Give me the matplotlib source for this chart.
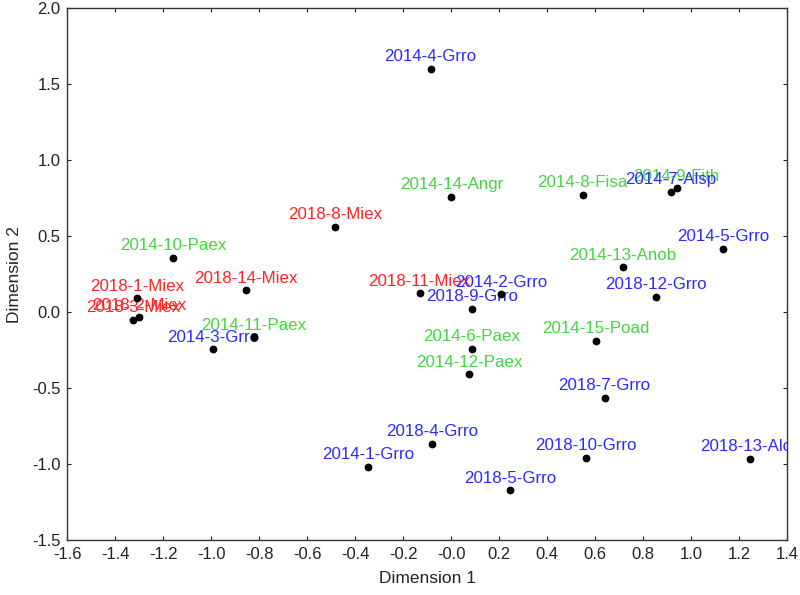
import numpy as np
import matplotlib.pyplot as plt

# points
labels = ['2014-4-Grro', '2014-14-Angr', '2014-8-Fisa', '2014-9-Fith', '2014-7-Alsp',
          '2014-5-Grro', '2014-13-Anob', '2018-12-Grro', '2014-15-Poad', '2018-7-Grro',
          '2018-10-Grro', '2018-13-Alce', '2014-1-Grro', '2018-4-Grro', '2018-5-Grro',
          '2018-11-Miex', '2014-2-Grro', '2018-9-Grro', '2014-6-Paex', '2014-12-Paex',
          '2018-1-Miex', '2018-2-Miex', '2018-3-Miex', '2018-14-Miex', '2014-11-Paex',
          '2014-3-Grro', '2018-8-Miex', '2014-10-Paex']
dim1 = [-0.086, 0.000, 0.548, 0.939, 0.915,
        1.132, 0.715, 0.854, 0.603, 0.639,
        0.561, 1.245, -0.346, -0.079, 0.246,
        -0.132, 0.207, 0.086, 0.086, 0.075,
        -1.308, -1.300, -1.325, -0.855, -0.823,
        -0.993, -0.485, -1.158]
dim2 = [1.601, 0.761, 0.774, 0.816, 0.793,
        0.416, 0.296, 0.103, -0.189, -0.564,
        -0.959, -0.965, -1.016, -0.864, -1.171,
        0.125, 0.118, 0.024, -0.239, -0.408,
        0.092, -0.033, -0.049, 0.145, -0.164,
        -0.243, 0.563, 0.357]
group = ['b', 'g', 'g', 'g', 'b',
         'b', 'g', 'b', 'g', 'b',
         'b', 'b', 'b', 'b', 'b',
         'r', 'b', 'b', 'g', 'g',
         'r', 'r', 'r', 'r', 'g',
         'b', 'r', 'g']

colors = {'g': '#45d445', 'r': '#ff2424', 'b': '#2b2bff'}
order = {'g': 0, 'r': 1, 'b': 2}

plt.rcParams['font.family'] = ['Liberation Sans', 'DejaVu Sans']

fig = plt.figure(figsize=(8, 5.95), dpi=100)
ax = fig.add_axes([0.0841, 0.0919, 0.9, 0.8941])

ax.plot(dim1, dim2, 'o', color='black', ms=4.6, zorder=5, clip_on=False)

for i in sorted(range(len(labels)), key=lambda k: order[group[k]]):
    ax.annotate(labels[i], (dim1[i], dim2[i]), xytext=(0, 5.5), textcoords='offset points',
                ha='center', va='baseline', fontsize=12.2, color=colors[group[i]],
                clip_on=True, zorder=3 + order[group[i]] * 0.1)

xt = np.arange(-1.6, 1.41, 0.2)
yt = np.arange(-1.5, 2.01, 0.5)
ax.set_xlim(-1.6, 1.4)
ax.set_ylim(-1.5, 2.0)
ax.set_xticks(xt)
ax.set_yticks(yt)
ax.set_xticklabels(['%.1f' % v for v in xt], fontsize=12)
ax.set_yticklabels(['%.1f' % v for v in yt], fontsize=12)
ax.tick_params(direction='in', length=3, width=0.8, top=True, right=True, pad=5, colors='#222222')
for s in ax.spines.values():
    s.set_linewidth(1.0)
    s.set_color('#333333')

ax.set_xlabel('Dimension 1', fontsize=12.5, color='#222222')
ax.set_ylabel('Dimension 2', fontsize=12.5, color='#222222')
ax.xaxis.set_label_coords(0.5, -0.057)
ax.yaxis.set_label_coords(-0.063, 0.5)

fig.savefig('out.png', dpi=100)
